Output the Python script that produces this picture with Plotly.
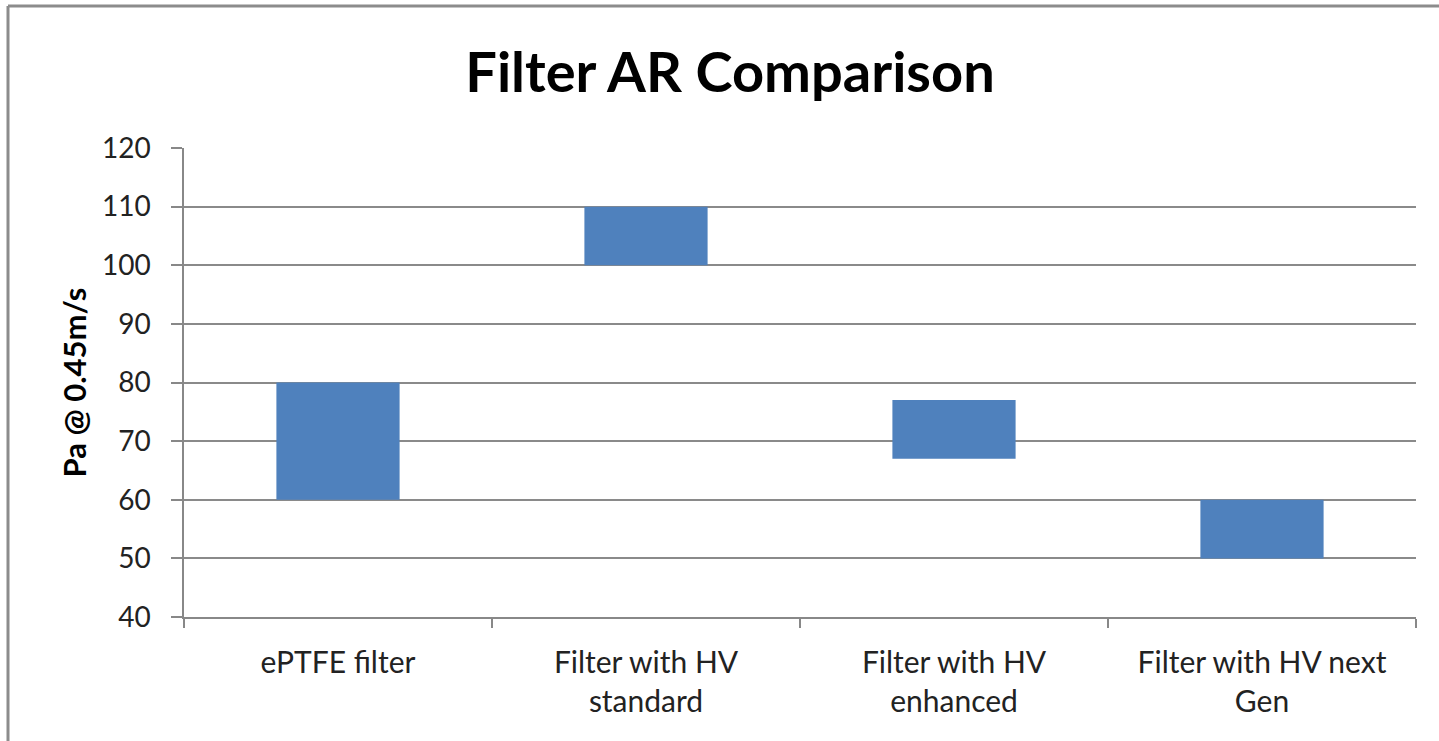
import plotly.graph_objects as go

categories = ["ePTFE filter", "Filter with HV<br>standard", "Filter with HV<br>enhanced", "Filter with HV next<br>Gen"]
low_values = [60, 100, 67, 50]
high_values = [80, 110, 77, 60]
y_ticks = [40, 50, 60, 70, 80, 90, 100, 110, 120]

heights = [h - l for h, l in zip(high_values, low_values)]

fig = go.Figure()
fig.add_trace(go.Bar(
    x=categories, y=heights, base=low_values,
    marker=dict(color="#4F81BD", line=dict(width=0)),
    width=0.4, showlegend=False,
))

L, R, T, B = 184, 23, 148, 124
W, H = 1439, 741
pw, ph = W - L - R, H - T - B

fig.update_layout(
    width=W, height=H,
    margin=dict(l=L, r=R, t=T, b=B),
    paper_bgcolor="white", plot_bgcolor="white",
    font=dict(family="Lato, Calibri, sans-serif", color="#000000"),
    title=dict(text="<b>Filter AR Comparison</b>", x=730 / W, xanchor="center", xref="container",
               y=1 - 72 / H, yanchor="middle", font=dict(size=56)),
    xaxis=dict(
        tickson="boundaries", ticks="outside", ticklen=9, tickcolor="#888888", tickwidth=1.5,
        showline=True, linecolor="#888888", linewidth=1.5, showgrid=False,
        tickfont=dict(size=30, color="#222222"), ticklabelstandoff=18,
    ),
    yaxis=dict(
        range=[40, 120], tickvals=y_ticks, ticks="outside", ticklen=11,
        tickcolor="#888888", tickwidth=1.5,
        showline=True, linecolor="#888888", linewidth=1.5,
        showgrid=True, gridcolor="#8a8a8a", gridwidth=1.5, zeroline=False,
        tickfont=dict(size=28, color="#222222"), ticklabelstandoff=15,
        title=dict(text="<b>Pa @ 0.45m/s</b>", font=dict(size=31), standoff=6),
    ),
    bargap=0.6,
)

# outer chart frame (left and top edges visible)
x0 = (8 - L) / pw
y_top = 1 + (T - 6) / ph
y_bot = -(B + 5) / ph
x1 = 1 + (R + 5) / pw
fig.add_shape(type="line", xref="paper", yref="paper", x0=x0, x1=x1, y0=y_top, y1=y_top,
              line=dict(color="#8c8c8c", width=3))
fig.add_shape(type="line", xref="paper", yref="paper", x0=x0, x1=x0, y0=y_bot, y1=y_top,
              line=dict(color="#8c8c8c", width=3))

fig.write_html("out.html")
